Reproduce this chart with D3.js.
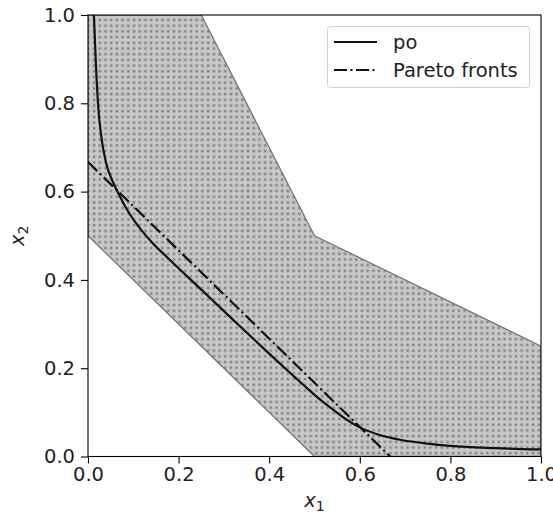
<html>
  <head>
    <script src="https://cdnjs.cloudflare.com/ajax/libs/d3/7.8.5/d3.min.js"></script>
    <style>
    body { margin: 0; background: white; }
    text { font-family: "DejaVu Sans", sans-serif; fill: #222; }
    </style>
  </head>
  <body>
    <svg id="chart" width="553" height="519"></svg>
    <script>
    // feasible region
    var regionX = [0, 0, 0.25, 0.5, 1, 1, 0.5];
    var regionY = [0.5, 1, 1, 0.5, 0.25, 0, 0];

    // "po" curve
    var poX = [0.013, 0.017, 0.022, 0.03, 0.04, 0.055, 0.07, 0.085, 0.1, 0.12, 0.145, 0.174, 0.25,
               0.321, 0.4, 0.453, 0.48, 0.51, 0.541, 0.57, 0.6, 0.64, 0.689, 0.75, 0.8, 0.9, 1.0];
    var poY = [1.0, 0.9, 0.8, 0.72, 0.665, 0.622, 0.59, 0.561, 0.537, 0.51, 0.481, 0.452, 0.378,
               0.309, 0.233, 0.183, 0.158, 0.131, 0.106, 0.084, 0.066, 0.05, 0.038, 0.029, 0.024, 0.019, 0.016];

    // Pareto front
    var paretoX = [0, 0.667];
    var paretoY = [0.667, 0];

    var ticks = [0, 0.2, 0.4, 0.6, 0.8, 1.0];
    var legendLabels = ['po', 'Pareto fronts'];

    var mLeft = 88, mTop = 15, w = 453, h = 441.5;
    var fs = '19.5px';
    var svg = d3.select('#chart');

    var x = d3.scaleLinear().domain([0, 1]).range([mLeft, mLeft + w]);
    var y = d3.scaleLinear().domain([0, 1]).range([mTop + h, mTop]);

    var defs = svg.append('defs');
    var pat = defs.append('pattern')
      .attr('id', 'dots')
      .attr('patternUnits', 'userSpaceOnUse')
      .attr('width', 5.7).attr('height', 5.7);
    pat.append('rect').attr('width', 5.7).attr('height', 5.7).attr('fill', '#c8c8c8');
    pat.append('rect').attr('x', 1.6).attr('y', 1.6).attr('width', 2.6).attr('height', 2.6)
      .attr('fill', '#858585');

    defs.append('clipPath').attr('id', 'clip')
      .append('rect').attr('x', mLeft).attr('y', mTop).attr('width', w).attr('height', h);

    var plot = svg.append('g').attr('clip-path', 'url(#clip)');

    var region = regionX.map(function(d, i) { return [x(d), y(regionY[i])]; });
    plot.append('polygon')
      .attr('points', region.map(function(p) { return p.join(','); }).join(' '))
      .attr('fill', 'url(#dots)')
      .attr('stroke', '#777')
      .attr('stroke-width', 1.3);

    var line = d3.line()
      .x(function(d) { return x(d[0]); })
      .y(function(d) { return y(d[1]); });

    plot.append('path')
      .datum(poX.map(function(d, i) { return [d, poY[i]]; }))
      .attr('d', line.curve(d3.curveMonotoneX))
      .attr('fill', 'none')
      .attr('stroke', '#111')
      .attr('stroke-width', 2.2);

    plot.append('path')
      .datum(paretoX.map(function(d, i) { return [d, paretoY[i]]; }))
      .attr('d', line.curve(d3.curveLinear))
      .attr('fill', 'none')
      .attr('stroke', '#111')
      .attr('stroke-width', 2.2)
      .attr('stroke-dasharray', '13,3.5,2,3.5');

    var xAxis = svg.append('g')
      .attr('transform', 'translate(0,' + (mTop + h) + ')')
      .call(d3.axisBottom(x).tickValues(ticks).tickFormat(d3.format('.1f')).tickSizeOuter(0).tickSize(7));
    var yAxis = svg.append('g')
      .attr('transform', 'translate(' + mLeft + ',0)')
      .call(d3.axisLeft(y).tickValues(ticks).tickFormat(d3.format('.1f')).tickSizeOuter(0).tickSize(7));

    [xAxis, yAxis].forEach(function(a) {
      a.select('.domain').remove();
      a.selectAll('line').attr('stroke', '#000').attr('stroke-width', 1.1);
      a.selectAll('text').style('font-size', fs).attr('fill', '#222');
    });
    xAxis.selectAll('text').attr('dy', '0.8em').attr('y', 9);
    yAxis.selectAll('text').attr('x', -13);

    svg.append('rect')
      .attr('x', mLeft).attr('y', mTop).attr('width', w).attr('height', h)
      .attr('fill', 'none').attr('stroke', '#000').attr('stroke-width', 1.1);

    // axis labels
    var xl = svg.append('text').attr('x', mLeft + w / 2).attr('y', 507)
      .attr('text-anchor', 'middle').style('font-size', fs);
    xl.append('tspan').text('x').style('font-style', 'italic');
    xl.append('tspan').text('1').attr('dy', 4).style('font-size', '14px');

    var yl = svg.append('text')
      .attr('transform', 'translate(24,' + (mTop + h / 2) + ') rotate(-90)')
      .attr('text-anchor', 'middle').style('font-size', fs);
    yl.append('tspan').text('x').style('font-style', 'italic');
    yl.append('tspan').text('2').attr('dy', 4).style('font-size', '14px');

    // legend
    var lg = svg.append('g');
    lg.append('rect')
      .attr('x', 327.5).attr('y', 26.5).attr('width', 202).attr('height', 61).attr('rx', 3)
      .attr('fill', 'white').attr('fill-opacity', 0.85)
      .attr('stroke', '#d0d0d0').attr('stroke-width', 1);
    legendLabels.forEach(function(name, i) {
      var ly = 42 + i * 28;
      lg.append('line')
        .attr('x1', 334).attr('x2', 377).attr('y1', ly).attr('y2', ly)
        .attr('stroke', '#111').attr('stroke-width', 2.2)
        .attr('stroke-dasharray', i === 1 ? '13,3.5,2,3.5' : null);
      lg.append('text').attr('x', 393).attr('y', ly).attr('dy', '0.35em')
        .style('font-size', fs).text(name);
    });
    </script>
  </body>
</html>
